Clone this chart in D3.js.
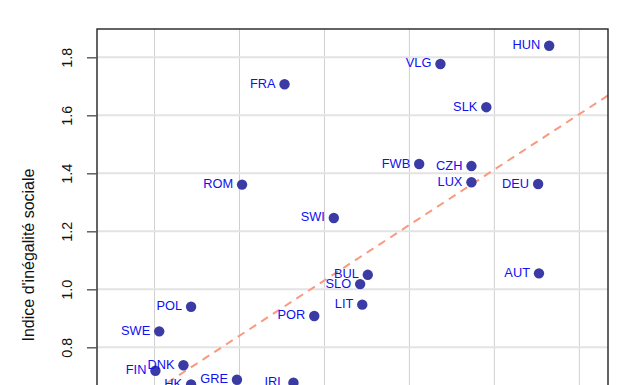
<!DOCTYPE html>
<html>
<head>
<meta charset="utf-8">
<script src="https://cdn.jsdelivr.net/npm/d3@7"></script>
<style>
  html, body { margin: 0; padding: 0; background: #fff; overflow: hidden; }
  svg { display: block; font-family: "Liberation Sans", Arial, sans-serif; }
</style>
</head>
<body>
<div id="chart"></div>
<script>
// Countries and their two indices (x axis is below the visible frame)
const countries = ["HUN", "VLG", "FRA", "SLK", "FWB", "CZH", "LUX", "DEU", "ROM", "SWI", "BUL",
  "SLO", "AUT", "LIT", "POR", "POL", "SWE", "DNK", "FIN", "HK", "GRE", "IRL"];
const xValues = [1.529, 1.273, 0.906, 1.381, 1.223, 1.346, 1.346, 1.503, 0.806, 1.022, 1.102,
  1.084, 1.505, 1.089, 0.976, 0.686, 0.611, 0.668, 0.602, 0.686, 0.794, 0.927];
const yValues = [1.840, 1.777, 1.707, 1.628, 1.432, 1.425, 1.369, 1.363, 1.361, 1.246, 1.050,
  1.018, 1.055, 0.947, 0.908, 0.940, 0.855, 0.738, 0.719, 0.672, 0.688, 0.678];
const xTicks = [0.6, 0.8, 1.0, 1.2, 1.4, 1.6];
const yTicks = [0.8, 1.0, 1.2, 1.4, 1.6, 1.8];
const fitIntercept = 0.076;
const fitSlope = 0.955;
const yTitle = "Indice d'inégalité sociale";

const width = 621, height = 385;
const margin = { top: 29, right: 13, left: 97 };
const plotBottom = 560; // frame runs past the bottom of the window

const svg = d3.select("#chart").append("svg")
  .attr("width", width)
  .attr("height", height);

const x = d3.scaleLinear().domain([0.4645, 1.6675]).range([margin.left, width - margin.right]);
const y = d3.scaleLinear().domain([1.8976, 1.8976 - (plotBottom - margin.top) / 290]).range([margin.top, plotBottom]);

svg.append("clipPath").attr("id", "plotClip")
  .append("rect")
  .attr("x", margin.left).attr("y", margin.top)
  .attr("width", width - margin.right - margin.left)
  .attr("height", plotBottom - margin.top);

const plot = svg.append("g").attr("clip-path", "url(#plotClip)");

// Grid
plot.selectAll(".vgrid").data(xTicks).join("line")
  .attr("x1", d => x(d)).attr("x2", d => x(d))
  .attr("y1", margin.top).attr("y2", plotBottom)
  .attr("stroke", "#d0d0d0").attr("stroke-width", 1);

plot.selectAll(".hgrid").data(yTicks).join("line")
  .attr("x1", margin.left).attr("x2", width - margin.right)
  .attr("y1", d => y(d)).attr("y2", d => y(d))
  .attr("stroke", "#e3e3e3").attr("stroke-width", 2);

// Regression line (dashed)
const xd = x.domain();
plot.append("line")
  .attr("x1", x(xd[0])).attr("y1", y(fitIntercept + fitSlope * xd[0]))
  .attr("x2", x(xd[1])).attr("y2", y(fitIntercept + fitSlope * xd[1]))
  .attr("stroke", "#f99a80")
  .attr("stroke-width", 2)
  .attr("stroke-dasharray", "8,6");

// Points + labels
const data = countries.map((c, i) => ({ name: c, x: xValues[i], y: yValues[i] }));

plot.selectAll(".pt").data(data).join("circle")
  .attr("cx", d => x(d.x))
  .attr("cy", d => y(d.y))
  .attr("r", 5.2)
  .attr("fill", "#3b3ba6");

plot.selectAll(".lbl").data(data).join("text")
  .attr("x", d => x(d.x) - 9)
  .attr("y", d => y(d.y) + 3.5)
  .attr("text-anchor", "end")
  .attr("font-size", 12.8)
  .attr("fill", "#1010f0")
  .text(d => d.name);

// Frame
svg.append("rect")
  .attr("x", margin.left).attr("y", margin.top)
  .attr("width", width - margin.right - margin.left)
  .attr("height", plotBottom - margin.top)
  .attr("fill", "none")
  .attr("stroke", "#222")
  .attr("stroke-width", 1.4);

// Y axis
const yAxis = svg.append("g")
  .attr("transform", `translate(${margin.left},0)`)
  .call(d3.axisLeft(y).tickValues(yTicks).tickFormat(d3.format(".1f")).tickSize(10).tickPadding(0));

yAxis.select(".domain").remove();
yAxis.selectAll(".tick line").attr("stroke", "#555").attr("stroke-width", 1.4);
yAxis.selectAll(".tick text")
  .attr("font-size", 14.4)
  .attr("font-family", "Liberation Sans, Arial, sans-serif")
  .attr("fill", "#111")
  .attr("text-anchor", "middle")
  .attr("dy", null)
  .attr("x", null)
  .attr("transform", "translate(-28.5,0) rotate(-90)")
  .attr("dominant-baseline", "middle");

svg.append("text")
  .attr("transform", `translate(30,${(168 + 342) / 2}) rotate(-90)`)
  .attr("text-anchor", "middle")
  .attr("dominant-baseline", "middle")
  .attr("font-size", 16)
  .attr("fill", "#111")
  .text(yTitle);
</script>
</body>
</html>
